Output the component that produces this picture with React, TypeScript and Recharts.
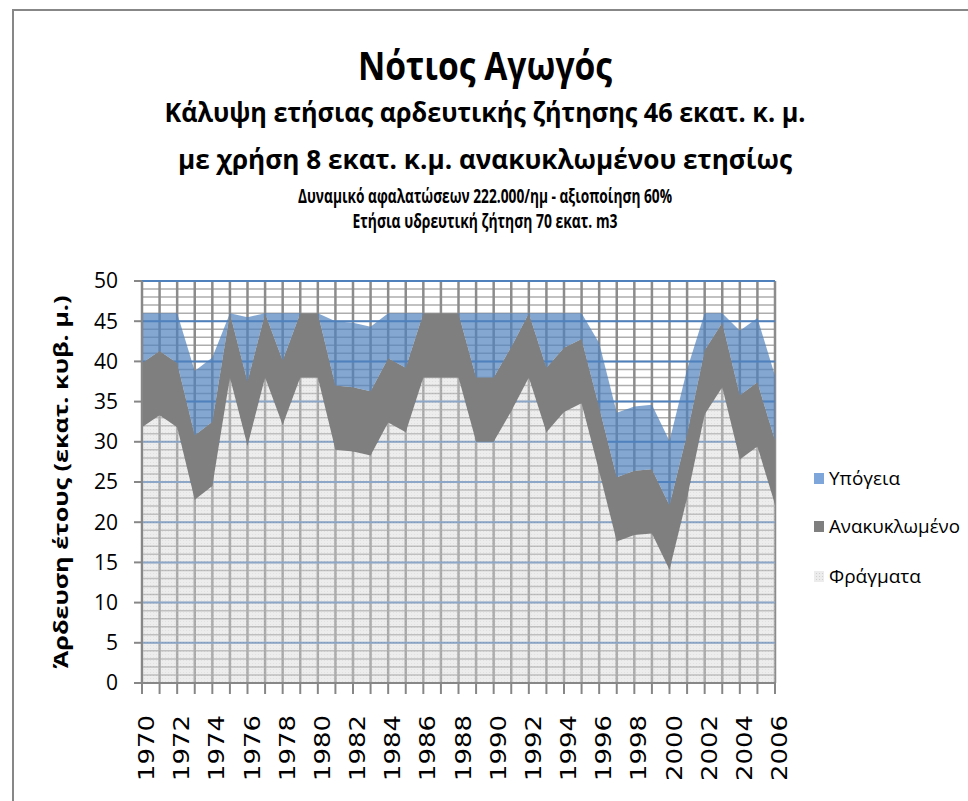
import React from "react";
import { AreaChart, Area, XAxis, YAxis, CartesianGrid } from "recharts";

const years = [
  "1970", "1971", "1972", "1973", "1974", "1975", "1976", "1977", "1978", "1979",
  "1980", "1981", "1982", "1983", "1984", "1985", "1986", "1987", "1988", "1989",
  "1990", "1991", "1992", "1993", "1994", "1995", "1996", "1997", "1998", "1999",
  "2000", "2001", "2002", "2003", "2004", "2005", "2006",
];

// Φράγματα (dams)
const dams = [
  31.8, 33.3, 31.8, 22.8, 24.5, 38, 29.5, 38, 32.1, 38,
  38, 29, 28.8, 28.3, 32.4, 31.2, 38, 38, 38, 30,
  30, 33.8, 38, 31.2, 33.7, 34.8, 26.3, 17.6, 18.4, 18.6,
  14.1, 23, 33.4, 36.8, 27.8, 29.4, 22.2,
];

// Ανακυκλωμένο (recycled)
const recycled = [
  8, 8, 8, 8, 8, 8, 8, 8, 8, 8,
  8, 8, 8, 8, 8, 8, 8, 8, 8, 8,
  8, 8, 8, 8, 8, 8, 8, 8, 8, 8,
  8, 8, 8, 8, 8, 8, 8,
];

// Υπόγεια (groundwater)
const groundwater = [
  6.2, 4.7, 6.2, 8, 8, 0, 8, 0, 5.9, 0,
  0, 8, 8, 8, 5.6, 6.8, 0, 0, 0, 8,
  8, 4.2, 0, 6.8, 4.3, 3.2, 8, 8, 8, 8,
  8, 8, 4.6, 1.2, 8, 8, 8,
];

const majorTicks = [0, 5, 10, 15, 20, 25, 30, 35, 40, 45, 50];
const minorTicks = [
  0, 1, 2, 3, 4, 5, 6, 7, 8, 9, 10, 11, 12, 13, 14, 15, 16, 17, 18, 19, 20,
  21, 22, 23, 24, 25, 26, 27, 28, 29, 30, 31, 32, 33, 34, 35, 36, 37, 38, 39, 40,
  41, 42, 43, 44, 45, 46, 47, 48, 49, 50,
];

const titleLines = [
  "Νότιος Αγωγός",
  "Κάλυψη ετήσιας αρδευτικής ζήτησης 46 εκατ. κ. μ.",
  "με χρήση 8 εκατ. κ.μ. ανακυκλωμένου ετησίως",
  "Δυναμικό αφαλατώσεων 222.000/ημ - αξιοποίηση 60%",
  "Ετήσια υδρευτική ζήτηση 70 εκατ. m3",
];
const yAxisTitle = "Άρδευση έτους (εκατ. κυβ. μ.)";
const seriesNames = ["Υπόγεια", "Ανακυκλωμένο", "Φράγματα"];

const data = years.map((year, i) => ({
  year,
  dams: dams[i],
  recycled: recycled[i],
  groundwater: groundwater[i],
}));

const FONT = "'Open Sans', 'DejaVu Sans', sans-serif";
const TICK_FONT = "'DejaVu Sans', sans-serif";

const titleStyles = [
  { y: 80, size: 40, len: 254 },
  { y: 122, size: 26, len: 641 },
  { y: 169, size: 26, len: 614 },
  { y: 203, size: 19, len: 374 },
  { y: 228, size: 19, len: 265 },
];

const XTick = (props: any) => {
  const { x, y, payload, index } = props;
  if (index % 2 !== 0) return null;
  const tx = x + 12;
  const ty = y + 21;
  return (
    <text
      x={tx}
      y={ty}
      transform={`rotate(-90, ${tx}, ${ty})`}
      textAnchor="end"
      fontFamily={TICK_FONT}
      fontSize={21}
      fill="#000"
      textLength={66}
      lengthAdjust="spacingAndGlyphs"
    >
      {payload.value}
    </text>
  );
};

const legendItems = [
  { name: seriesNames[0], fill: "#7ea6da", y: 479, len: 71 },
  { name: seriesNames[1], fill: "#7f7f7f", y: 527, len: 131 },
  { name: seriesNames[2], fill: "url(#damsPatternLegend)", y: 577, len: 92 },
];

export default function App() {
  return (
    <div
      style={{
        position: "fixed",
        left: 0,
        top: 0,
        width: 968,
        height: 801,
        overflow: "hidden",
        background: "#fff",
      }}
    >
      <div
        style={{
          position: "absolute",
          left: 12,
          top: 9,
          width: 1200,
          height: 1200,
          borderTop: "2px solid #878787",
          borderLeft: "2px solid #878787",
        }}
      />
      <div style={{ position: "absolute", left: 0, top: 0 }}>
        <AreaChart
          width={968}
          height={801}
          data={data}
          margin={{ top: 281, right: 193, bottom: 28, left: 82 }}
        >
          <defs>
            <pattern id="damsPattern" width="3" height="3" patternUnits="userSpaceOnUse">
              <rect width="3" height="3" fill="#d6d6d6" />
              <rect width="1" height="1" fill="#bdbdbd" />
            </pattern>
          </defs>
          <XAxis
            dataKey="year"
            interval={0}
            tick={<XTick />}
            tickSize={11}
            tickMargin={0}
            height={90}
            axisLine={{ stroke: "#878787", strokeWidth: 2 }}
            tickLine={{ stroke: "#878787", strokeWidth: 2 }}
          />
          <YAxis
            domain={[0, 50]}
            ticks={majorTicks}
            interval={0}
            width={60}
            tickSize={8}
            tickMargin={16}
            tick={{ fontFamily: FONT, fontSize: 21, fill: "#000" }}
            axisLine={{ stroke: "#878787", strokeWidth: 2 }}
            tickLine={{ stroke: "#878787", strokeWidth: 2 }}
          />
          <CartesianGrid
            vertical={false}
            horizontalValues={minorTicks}
            stroke="#adadad"
            strokeWidth={1.5}
          />
          <CartesianGrid horizontal={false} stroke="#8c8c8c" strokeWidth={2.5} />
          <CartesianGrid
            vertical={false}
            horizontalValues={majorTicks}
            stroke="#4f81bd"
            strokeWidth={2}
          />
          <Area
            type="linear"
            dataKey="dams"
            name={seriesNames[2]}
            stackId="1"
            stroke="none"
            fill="url(#damsPattern)"
            fillOpacity={0.45}
            isAnimationActive={false}
          />
          <Area
            type="linear"
            dataKey="recycled"
            name={seriesNames[1]}
            stackId="1"
            stroke="none"
            fill="#7f7f7f"
            fillOpacity={1}
            isAnimationActive={false}
          />
          <Area
            type="linear"
            dataKey="groundwater"
            name={seriesNames[0]}
            stackId="1"
            stroke="none"
            fill="#4f81bd"
            fillOpacity={0.7}
            isAnimationActive={false}
          />
        </AreaChart>
      </div>
      <svg
        width={968}
        height={801}
        style={{ position: "absolute", left: 0, top: 0, pointerEvents: "none" }}
      >
        <defs>
          <pattern id="damsPatternLegend" width="3" height="3" patternUnits="userSpaceOnUse">
            <rect width="3" height="3" fill="#ececec" />
            <rect width="1" height="1" fill="#d0d0d0" />
          </pattern>
        </defs>
        {titleLines.map((t, i) => (
          <text
            key={i}
            x={485}
            y={titleStyles[i].y}
            textAnchor="middle"
            fontFamily={FONT}
            fontWeight="bold"
            fontSize={titleStyles[i].size}
            fill="#000"
            textLength={titleStyles[i].len}
            lengthAdjust="spacingAndGlyphs"
          >
            {t}
          </text>
        ))}
        <text
          x={68}
          y={482}
          transform="rotate(-90, 68, 482)"
          textAnchor="middle"
          fontFamily={FONT}
          fontWeight="bold"
          fontSize={20}
          fill="#000"
          textLength={373}
          lengthAdjust="spacingAndGlyphs"
        >
          {yAxisTitle}
        </text>
        {legendItems.map((it, i) => (
          <g key={i}>
            <rect x={814} y={it.y - 6} width={10} height={11} fill={it.fill} />
            <text
              x={829}
              y={it.y + 6}
              fontFamily={FONT}
              fontSize={18}
              fill="#000"
              textLength={it.len}
              lengthAdjust="spacingAndGlyphs"
            >
              {it.name}
            </text>
          </g>
        ))}
      </svg>
    </div>
  );
}
